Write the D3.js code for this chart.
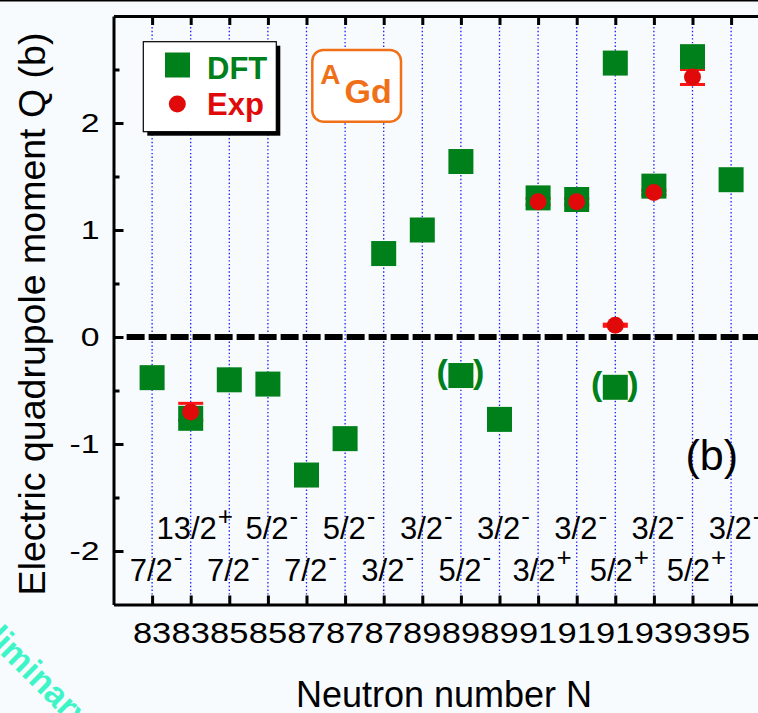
<!DOCTYPE html>
<html>
<head>
<meta charset="utf-8">
<script src="https://cdn.jsdelivr.net/npm/d3@7"></script>
<style>
  html, body { margin: 0; padding: 0; background: #f8fbfd; }
  svg { display: block; }
  text { font-family: Arial, "Liberation Sans", Helvetica, sans-serif; }
</style>
</head>
<body>
<svg id="chart" width="758" height="713"></svg>
<script>
// Neutron number of each Gd state (one column per state)
const neutronLabels = ["83","83","85","85","87","87","87","89","89","89","91","91","91","93","93","95"];
// Spin and parity of each state
const spins    = ["7/2","13/2","7/2","5/2","7/2","5/2","3/2","3/2","5/2","3/2","3/2","3/2","5/2","3/2","5/2","3/2"];
const parities = ["-","+","-","-","-","-","-","-","-","-","+","-","+","-","+","-"];
// DFT spectroscopic quadrupole moments (b)
const dftQ = [-0.38, -0.76, -0.40, -0.44, -1.29, -0.95, 0.78, 1.00, 1.64, -0.77, 1.30, 1.285, 2.56, 1.41, 2.62, 1.47];
// Tentative DFT solutions, shown in parentheses
const tentativeIdx = [8, 12];
const tentativeQ   = [-0.36, -0.47];
// Experimental moments (b) with uncertainties
const expIdx = [1, 10, 11, 12, 13, 14];
const expQ   = [-0.70, 1.265, 1.265, 0.11, 1.35, 2.43];
const expErr = [0.08, 0.03, 0.03, 0.01, 0.02, 0.07];
// Y axis ticks
const yMajor = [-2, -1, 0, 1, 2];
const yMinor = [-1.5, -0.5, 0.5, 1.5, 2.5];

const GREEN = "#00801a", RED = "#e00a0a", ERR = "#ff1414", ORANGE = "#f07018", BLUE = "#1a1aff";

const svg = d3.select("#chart");
svg.append("rect").attr("width", 758).attr("height", 713).attr("fill", "#f8fbfd");
svg.append("line").attr("x1", 0).attr("x2", 758).attr("y1", 0.75).attr("y2", 0.75)
  .attr("stroke", "#000").attr("stroke-width", 1.5);

const x = d3.scaleLinear().domain([0, 17]).range([113.5, 769.7]);
const y = d3.scaleLinear().domain([-2.5, 3]).range([604.5, 16]);
const pos = i => x(i + 1);

// vertical dotted guides at each state
svg.append("g").selectAll("line").data(neutronLabels).join("line")
  .attr("x1", (d, i) => pos(i)).attr("x2", (d, i) => pos(i))
  .attr("y1", y(3)).attr("y2", y(-2.5))
  .attr("stroke", BLUE).attr("stroke-width", 1.3).attr("stroke-dasharray", "1.4,2.3");

// Q = 0 reference
svg.append("line")
  .attr("x1", x(0.34)).attr("x2", x(17)).attr("y1", y(0)).attr("y2", y(0))
  .attr("stroke", "#000").attr("stroke-width", 6).attr("stroke-dasharray", "18,4");

// experimental error bars
const eb = svg.append("g").attr("stroke", ERR).attr("stroke-width", 3);
expIdx.forEach((idx, k) => {
  const cx = pos(idx);
  eb.append("line").attr("x1", cx).attr("x2", cx)
    .attr("y1", y(expQ[k] + expErr[k])).attr("y2", y(expQ[k] - expErr[k])).attr("stroke-width", 2);
  [expQ[k] + expErr[k], expQ[k] - expErr[k]].forEach(v => {
    eb.append("line").attr("x1", cx - 12.5).attr("x2", cx + 12.5).attr("y1", y(v)).attr("y2", y(v));
  });
});

// DFT squares
const sq = 25;
svg.append("g").selectAll("rect").data(dftQ).join("rect")
  .attr("x", (d, i) => pos(i) - sq / 2).attr("y", d => y(d) - sq / 2)
  .attr("width", sq).attr("height", sq).attr("fill", GREEN);
const tg = svg.append("g");
tentativeIdx.forEach((idx, k) => {
  const cx = pos(idx), cy = y(tentativeQ[k]);
  tg.append("rect").attr("x", cx - sq / 2).attr("y", cy - sq / 2).attr("width", sq).attr("height", sq).attr("fill", GREEN);
  tg.append("text").attr("x", cx - 13).attr("y", cy + 7.5).attr("text-anchor", "end")
    .attr("font-size", 34).attr("font-weight", "bold").attr("fill", GREEN).text("(");
  tg.append("text").attr("x", cx + 12).attr("y", cy + 7.5).attr("text-anchor", "start")
    .attr("font-size", 34).attr("font-weight", "bold").attr("fill", GREEN).text(")");
});

// experimental points
svg.append("g").selectAll("circle").data(expQ).join("circle")
  .attr("cx", (d, k) => pos(expIdx[k])).attr("cy", d => y(d)).attr("r", 8.5).attr("fill", RED);

// axes (ticks point inward)
const axY = svg.append("g").attr("transform", `translate(${x(0)},0)`)
  .call(d3.axisLeft(y).tickValues(yMajor).tickSize(-10).tickSizeOuter(0).tickFormat(""));
const axYm = svg.append("g").attr("transform", `translate(${x(0)},0)`)
  .call(d3.axisLeft(y).tickValues(yMinor).tickSize(-6).tickSizeOuter(0).tickFormat(""));
axYm.select(".domain").remove();
const axT = svg.append("g").attr("transform", `translate(0,${y(3)})`)
  .call(d3.axisTop(x).tickValues(d3.range(1, 17)).tickSize(-9).tickSizeOuter(0).tickFormat(""));
const axB = svg.append("g").attr("transform", `translate(0,${y(-2.5)})`)
  .call(d3.axisBottom(x).tickValues(d3.range(1, 17)).tickSize(-9).tickSizeOuter(0).tickFormat(""));
[axY, axYm, axT, axB].forEach(a => {
  a.selectAll(".domain").attr("stroke", "#000").attr("stroke-width", 3);
  a.selectAll(".tick line").attr("stroke", "#000").attr("stroke-width", 3);
});

// y tick labels
svg.append("g").selectAll("text").data(yMajor).join("text")
  .attr("transform", d => `translate(99.5,${y(d) + 8.8}) scale(1.35,1)`)
  .attr("text-anchor", "end").attr("font-size", 25).attr("fill", "#000")
  .text(d => (d < 0 ? "-" : "") + Math.abs(d));

// neutron-number tick labels
svg.append("g").selectAll("text").data(neutronLabels).join("text")
  .attr("transform", (d, i) => `translate(${pos(i)},643) scale(1.15,1)`)
  .attr("text-anchor", "middle").attr("font-size", 30).attr("fill", "#000")
  .text(d => d);

// spin-parity labels, alternating rows
const sp = svg.append("g").selectAll("text").data(spins).join("text")
  .attr("x", (d, i) => pos(i) + 4)
  .attr("y", (d, i) => i % 2 === 0 ? 580.7 : 539)
  .attr("text-anchor", "middle").attr("font-size", 31).attr("fill", "#000");
sp.append("tspan").text(d => d);
sp.append("tspan").attr("font-size", 26).attr("dy", -14.5).attr("dx", 1).text((d, i) => parities[i]);

// axis titles
svg.append("text").attr("transform", "translate(45,314) rotate(-90)")
  .attr("text-anchor", "middle").attr("font-size", 37.5).attr("fill", "#000")
  .text("Electric quadrupole moment Q (b)");
svg.append("text").attr("x", 444).attr("y", 706.7)
  .attr("text-anchor", "middle").attr("font-size", 36).attr("fill", "#000")
  .text("Neutron number N");

// panel tag
svg.append("text").attr("x", 711.7).attr("y", 470)
  .attr("text-anchor", "middle").attr("font-size", 43).attr("fill", "#000").text("(b)");

// legend
const lg = svg.append("g");
lg.append("rect").attr("x", 147.3).attr("y", 45.7).attr("width", 133).attr("height", 90).attr("fill", "#000");
lg.append("rect").attr("x", 143.3).attr("y", 41.7).attr("width", 133).attr("height", 90)
  .attr("fill", "#fff").attr("stroke", "#000").attr("stroke-width", 1.2);
lg.append("rect").attr("x", 177.5 - sq / 2).attr("y", 65 - sq / 2).attr("width", sq).attr("height", sq).attr("fill", GREEN);
lg.append("circle").attr("cx", 177.3).attr("cy", 104).attr("r", 8.5).attr("fill", RED);
lg.append("text").attr("x", 207).attr("y", 79).attr("font-size", 31).attr("font-weight", "bold").attr("fill", GREEN).text("DFT");
lg.append("text").attr("x", 207).attr("y", 115).attr("font-size", 31).attr("font-weight", "bold").attr("fill", RED).text("Exp");

// nucleus tag
const nt = svg.append("g");
nt.append("rect").attr("x", 312.3).attr("y", 50).attr("width", 88.7).attr("height", 71.7).attr("rx", 11)
  .attr("fill", "#fff").attr("stroke", ORANGE).attr("stroke-width", 2.5);
nt.append("text").attr("x", 320.3).attr("y", 84).attr("font-size", 28).attr("font-weight", "bold").attr("fill", ORANGE).text("A");
nt.append("text").attr("x", 344.5).attr("y", 102.7).attr("font-size", 34).attr("font-weight", "bold").attr("fill", ORANGE).text("Gd");

// watermark
svg.append("text").attr("transform", "translate(-53,601) rotate(45)")
  .attr("font-family", "'Liberation Serif', 'Times New Roman', serif")
  .attr("font-size", 34).attr("font-weight", "bold").attr("fill", "#3ff5c8").text("Preliminary");
</script>
</body>
</html>
